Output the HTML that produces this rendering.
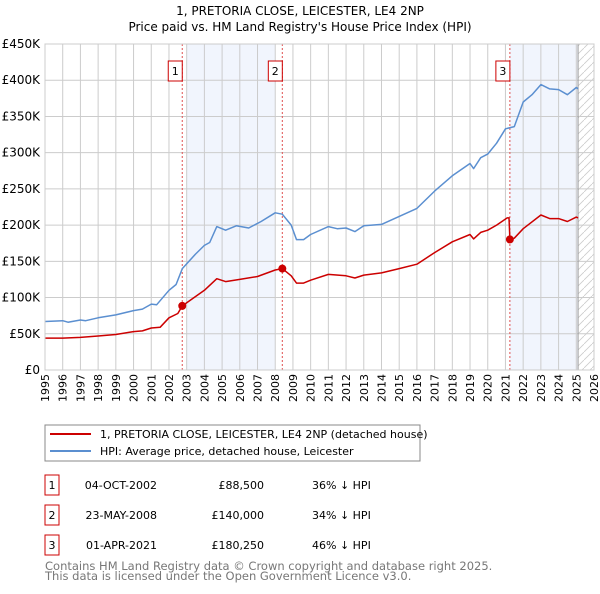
<!DOCTYPE html>
<html><head><meta charset="utf-8"><style>
body{margin:0;background:#fff;font-family:"DejaVu Sans","Liberation Sans",sans-serif;}
svg text{font-family:"DejaVu Sans","Liberation Sans",sans-serif;}
</style></head><body>
<svg id="chart" width="600" height="590" viewBox="0 0 600 590" xmlns="http://www.w3.org/2000/svg">
<defs><pattern id="hatch" width="8" height="8" patternUnits="userSpaceOnUse"><path d="M0,8 L8,0" stroke="#ccc" stroke-width="0.8"/></pattern></defs>
<text x="300" y="15" text-anchor="middle" font-size="12">1, PRETORIA CLOSE, LEICESTER, LE4 2NP</text>
<text x="300" y="31" text-anchor="middle" font-size="12">Price paid vs. HM Land Registry's House Price Index (HPI)</text>
<g id="plot"></g>
<g>
<rect x="45" y="425" width="375" height="36" fill="#fff" stroke="#888"/>
<line x1="50" y1="434" x2="91" y2="434" stroke="#cc0000" stroke-width="2"/>
<text x="100" y="438" font-size="11">1, PRETORIA CLOSE, LEICESTER, LE4 2NP (detached house)</text>
<line x1="50" y1="451" x2="91" y2="451" stroke="#5b8fd0" stroke-width="2"/>
<text x="100" y="455" font-size="11">HPI: Average price, detached house, Leicester</text>
</g>
<g id="table"></g>
<text x="45" y="570" font-size="11.5" fill="#777">Contains HM Land Registry data © Crown copyright and database right 2025.</text>
<text x="45" y="580" font-size="11.5" fill="#777">This data is licensed under the Open Government Licence v3.0.</text>
</svg>
<script>
const yearTicks=[1995,1996,1997,1998,1999,2000,2001,2002,2003,2004,2005,2006,2007,2008,2009,2010,2011,2012,2013,2014,2015,2016,2017,2018,2019,2020,2021,2022,2023,2024,2025,2026];
const valueTicks=[0,50,100,150,200,250,300,350,400,450];
const valueTickLabels=["£0","£50K","£100K","£150K","£200K","£250K","£300K","£350K","£400K","£450K"];
const hpiYears=[1995,1996,1996.3,1997,1997.3,1998,1999,2000,2000.5,2001,2001.3,2002,2002.4,2002.75,2003.5,2004,2004.3,2004.7,2005.2,2005.8,2006.5,2007.2,2008,2008.4,2008.9,2009.2,2009.6,2010,2011,2011.5,2012,2012.5,2013,2014,2015,2016,2017,2018,2019,2019.2,2019.6,2020,2020.5,2021,2021.5,2022,2022.5,2023,2023.5,2024,2024.5,2025,2025.1];
const hpiValues=[67,68,66,69,68,72,76,82,84,91,90,110,118,140,160,172,176,198,193,199,196,205,217,215,200,180,180,187,198,195,196,191,199,201,212,223,247,268,285,278,293,298,313,333,336,370,380,394,388,387,380,390,388];
const paidYears=[1995,1996,1997,1998,1999,2000,2000.5,2001,2001.5,2002,2002.5,2002.75,2004,2004.7,2005.2,2006,2007,2008,2008.4,2008.9,2009.2,2009.6,2010,2011,2012,2012.5,2013,2014,2015,2016,2017,2018,2019,2019.2,2019.6,2020,2020.5,2021.1,2021.2,2021.25,2021.5,2022,2023,2023.5,2024,2024.5,2025,2025.1];
const paidValues=[44,44,45,47,49,53,54,58,59,72,78,88.5,110,126,122,125,129,138,140,130,120,120,124,132,130,127,131,134,140,146,162,177,187,181,190,193,200,210,210,180.25,182,195,214,209,209,205,211,210];
const saleYears=[2002.75,2008.4,2021.25];
const saleValues=[88.5,140,180.25];
const saleLabels=["1","2","3"];
const saleDates=["04-OCT-2002","23-MAY-2008","01-APR-2021"];
const salePrices=["£88,500","£140,000","£180,250"];
const saleDiffs=["36% ↓ HPI","34% ↓ HPI","46% ↓ HPI"];

const NS="http://www.w3.org/2000/svg";
const L=45,R=594,T=44,B=370,X0=1995,X1=2026,Y1=450;
const xs=v=>L+(v-X0)/(X1-X0)*(R-L);
const ys=v=>B-v/Y1*(B-T);
const plot=document.getElementById('plot');
function mk(tag,attrs,parent){const e=document.createElementNS(NS,tag);for(const k in attrs)e.setAttribute(k,attrs[k]);(parent||plot).appendChild(e);return e;}
const s1=mk('rect',{x:xs(2003.0),y:T,width:xs(2008.0)-xs(2003.0),height:B-T,fill:'#eef3fc',opacity:0.8});


const s2=mk('rect',{x:xs(2021.25),y:T,width:xs(2025.1)-xs(2021.25),height:B-T,fill:'#eef3fc',opacity:0.8});


const hz=mk('rect',{x:xs(2025.1),y:T,width:R-xs(2025.1),height:B-T,fill:'url(#hatch)'});


yearTicks.forEach(y=>{
 const g=mk('line',{x1:xs(y),x2:xs(y),y1:T,y2:B,stroke:'#ccc','stroke-width':1});
 
 
 const t=mk('text',{x:0,y:0,'font-size':11,'text-anchor':'end',transform:`translate(${xs(y)+4},374) rotate(-90)`});
 t.textContent=y;
 
 
});
valueTicks.forEach((v,i)=>{
 const g=mk('line',{x1:L,x2:R,y1:ys(v),y2:ys(v),stroke:'#ccc','stroke-width':1});
 
 
 const t=mk('text',{x:L-5,y:ys(v)+4,'font-size':12,'text-anchor':'end'});
 t.textContent=valueTickLabels[i];
 
 
});
const ed=mk('line',{x1:xs(2025.1),x2:xs(2025.1),y1:T,y2:B,stroke:'#999','stroke-width':1});


saleYears.forEach((y,i)=>{
 const l=mk('line',{x1:xs(y),x2:xs(y),y1:T,y2:B,stroke:'#e05050','stroke-width':1,'stroke-dasharray':'2,2'});
 
 
 const bx=mk('rect',{x:xs(y)-14,y:61,width:14,height:20,fill:'#fff',stroke:'#cc0000'});
 
 
 const t=mk('text',{x:xs(y)-7,y:75,'font-size':11,'text-anchor':'middle'});
 t.textContent=saleLabels[i];
 
 
});
function line(xsA,vs,color,name){
 const p=mk('polyline',{points:xsA.map((x,i)=>xs(x).toFixed(1)+','+ys(vs[i]).toFixed(1)).join(' '),fill:'none',stroke:color,'stroke-width':1.5,'stroke-linejoin':'round'});
 
 
}
line(hpiYears,hpiValues,'#5b8fd0','hpi-line');
line(paidYears,paidValues,'#cc0000','price-paid-line');
saleYears.forEach((y,i)=>{
 const c=mk('circle',{cx:xs(y),cy:ys(saleValues[i]),r:4,fill:'#cc0000'});
 
 
});
const ax=mk('rect',{x:L,y:T,width:R-L,height:B-T,fill:'none',stroke:'#ccc'});


const tb=document.getElementById('table');
saleLabels.forEach((s,i)=>{
 const y0=475+i*30;
 const b=mk('rect',{x:45,y:y0,width:14,height:20,fill:'#fff',stroke:'#cc0000'},tb);
 
 
 const cells=[[52,'middle',s,'row-number'],[157,'end',saleDates[i],'row-date'],[264,'end',salePrices[i],'row-price'],[312,'start',saleDiffs[i],'row-hpi-diff']];
 cells.forEach(c=>{
  const t=mk('text',{x:c[0],y:y0+14,'font-size':11,'text-anchor':c[1]},tb);
  t.textContent=c[2];
  
  
 });
});
</script>
</body></html>
